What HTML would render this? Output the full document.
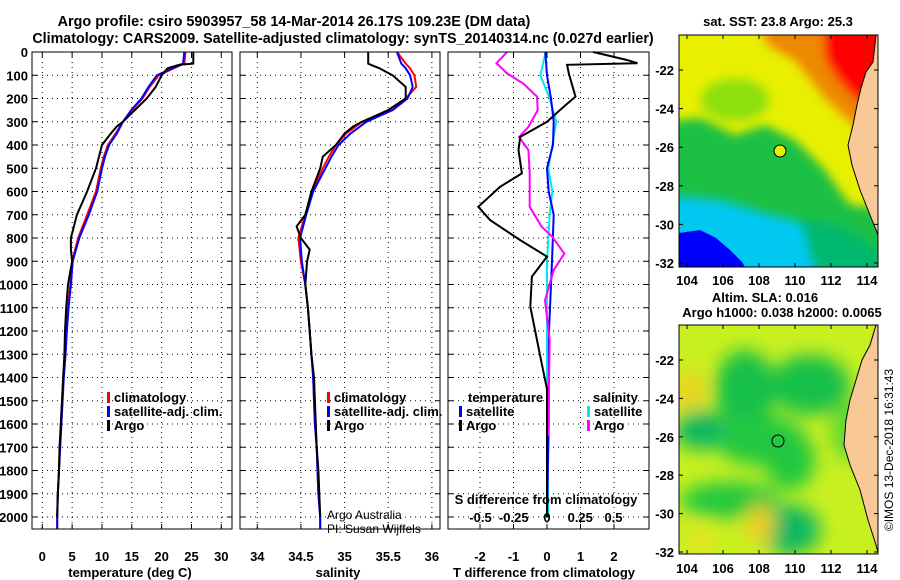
<!DOCTYPE html>
<html><head><meta charset="utf-8"><style>
body{margin:0;background:#fff;}
svg{display:block;font-family:"Liberation Sans",sans-serif;}
.t{font-weight:bold;font-size:13px;fill:#000;}
</style></head><body>
<svg id="c" width="900" height="580" viewBox="0 0 900 580">
<defs>
<filter id="bl" x="-20%" y="-20%" width="140%" height="140%"><feGaussianBlur stdDeviation="5"/></filter>
<filter id="bl2" x="-30%" y="-30%" width="160%" height="160%"><feGaussianBlur stdDeviation="9"/></filter>
<clipPath id="m1c"><rect x="679" y="35" width="199" height="232"/></clipPath>
<clipPath id="m2c"><rect x="679" y="325" width="199" height="229"/></clipPath>
</defs>
<text class="t" x="294" y="26" text-anchor="middle" style="font-size:14.4px">Argo profile: csiro 5903957_58 14-Mar-2014 26.17S 109.23E (DM data)</text>
<text class="t" x="343" y="43" text-anchor="middle" style="font-size:14.3px">Climatology: CARS2009. Satellite-adjusted climatology: synTS_20140314.nc (0.027d earlier)</text>

<!-- SST map -->
<g>
<g clip-path="url(#m1c)">
<rect x="679" y="35" width="199" height="232" fill="#1cc045"/>
<g filter="url(#bl)">
<polygon fill="#e8f000" points="660,20 900,20 900,210 850,205 825,170 795,140 765,125 735,135 700,118 660,122"/>
<ellipse cx="735" cy="100" rx="35" ry="22" fill="#8ee010"/>
<polygon fill="#ee8800" points="760,20 900,20 900,135 855,128 825,100 795,62 765,45"/>
<polygon fill="#ff0000" points="822,20 900,20 900,105 855,100 838,80 825,60"/>
<polygon fill="#00c8f0" points="660,195 720,200 760,212 800,222 835,245 840,290 660,290"/>
<polygon fill="#05b870" points="800,220 840,225 878,250 878,290 820,290"/>
</g>
<polygon fill="#0000ff" points="679,233 700,230 716,238 730,250 742,262 745,267 679,267"/>
<polygon fill="#f8c896" stroke="#000" stroke-width="1" points="876,35 880,35 880,240 876,230 868,210 860,190 852,165 848,145 853,125 857,105 861,88 866,72 873,62"/>
</g>
<rect x="679" y="35" width="199" height="232" fill="none" stroke="#000"/>
<circle cx="780" cy="151" r="6" fill="#e8f000" stroke="#000"/>
<text class="t" x="778" y="26" text-anchor="middle">sat. SST: 23.8 Argo: 25.3</text>
</g>

<!-- SLA map -->
<g>
<g clip-path="url(#m2c)">
<rect x="679" y="325" width="199" height="229" fill="#c8f020"/>
<g filter="url(#bl2)">
<ellipse cx="745" cy="390" rx="30" ry="40" fill="#18c048"/>
<ellipse cx="810" cy="385" rx="40" ry="30" fill="#18c048"/>
<ellipse cx="760" cy="440" rx="45" ry="25" fill="#20c840"/>
<ellipse cx="700" cy="430" rx="25" ry="20" fill="#10b860"/>
<ellipse cx="790" cy="460" rx="25" ry="30" fill="#20c840"/>
<ellipse cx="730" cy="500" rx="50" ry="18" fill="#20c840"/>
<ellipse cx="790" cy="530" rx="30" ry="25" fill="#10b860"/>
<ellipse cx="850" cy="430" rx="20" ry="30" fill="#60d830"/>
<ellipse cx="690" cy="390" rx="14" ry="20" fill="#f0d020"/>
<ellipse cx="760" cy="525" rx="14" ry="20" fill="#f0d020"/>
<ellipse cx="700" cy="540" rx="12" ry="12" fill="#f0e020"/>
</g>
<polygon fill="#f8c896" stroke="#000" stroke-width="1" points="876,325 880,325 880,560 876,545 868,520 860,490 850,465 844,445 846,420 850,400 856,380 862,360 870,345"/>
</g>
<rect x="679" y="325" width="199" height="229" fill="none" stroke="#000"/>
<circle cx="778" cy="441" r="6" fill="none" stroke="#000"/>
<text class="t" x="765" y="302" text-anchor="middle">Altim. SLA: 0.016</text>
<text class="t" x="782" y="317" text-anchor="middle">Argo h1000: 0.038 h2000: 0.0065</text>
</g>
<text x="893" y="450" font-size="12" transform="rotate(-90 893 450)" text-anchor="middle">©IMOS 13-Dec-2018 16:31:43</text>
<g id="layer"></g>
</svg>
<script>
// ---- data ----
const depthClim = [0,50,70,100,150,200,250,300,350,400,450,500,600,700,800,900,1000,1100,1200,1300,1400,1500,1600,1700,1800,1900,2000,2050];
const tempClim = [24,23.8,22,19.5,18,16.8,15,13.5,12.3,11,10.3,9.8,9,7.5,6,5,4.7,4.3,4,3.8,3.5,3.3,3.1,2.9,2.8,2.6,2.5,2.5];
const tempSat  = [23.8,23.6,21.8,19.2,17.8,16.6,14.9,13.5,12.5,11.2,10.5,10,9.2,7.8,6.2,5.1,4.8,4.4,4.1,3.9,3.6,3.4,3.2,3.0,2.8,2.6,2.5,2.5];
const depthArgo = [0,50,55,70,100,150,200,250,300,320,350,400,450,500,600,700,750,800,850,900,1000,1100,1200,1300,1400,1500,1600,1700,1800,1900,2000];
const tempArgo = [25.3,25.3,23,21,20,19,17.5,15.5,13.5,12.5,11.5,10,9.5,9,7.5,5.8,5.3,4.8,4.8,5,4.3,4,3.8,3.7,3.5,3.3,3.1,2.9,2.8,2.6,2.5];
const salClim = [35.6,35.7,35.75,35.8,35.82,35.7,35.5,35.2,35.02,34.9,34.82,34.75,34.63,34.55,34.47,34.5,34.55,34.58,34.6,34.62,34.64,34.65,34.66,34.68,34.69,34.7,34.72,34.72];
const salSat  = [35.6,35.65,35.7,35.75,35.78,35.72,35.55,35.25,35.07,34.93,34.85,34.78,34.64,34.56,34.49,34.51,34.55,34.58,34.6,34.62,34.64,34.65,34.66,34.68,34.69,34.7,34.72,34.72];
const salArgo = [35.27,35.27,35.3,35.4,35.55,35.7,35.7,35.5,35.2,35.1,35,34.9,34.75,34.72,34.62,34.55,34.45,34.5,34.6,34.57,34.55,34.58,34.6,34.62,34.65,34.66,34.67,34.68,34.7,34.71,34.72];
const depthDiff = [0,35,48,55,92,192,235,300,365,422,522,580,666,723,809,880,966,1095,1310,1450,2000];
const tDiffArgo = [1.38,2.4,2.7,0.6,0.65,0.85,0.5,0,-0.8,-0.85,-0.75,-1.4,-2.05,-1.7,-0.8,0,-0.45,-0.5,-0.2,0,0];
const depthDiffSat = [0,100,200,300,400,500,600,700,900,1200,1600,2000];
const tDiffSat = [-0.05,0,0.12,0.2,0.18,0,0.05,0.2,0.15,0.06,0.05,0];
const sDiffSat = [-0.01,-0.05,0.02,0.07,0.04,0.01,0.04,0.02,0,0,0,0.01];
const depthSDiff = [0,48,92,135,192,250,322,365,422,522,666,752,795,867,939,1068,1240,1600,1650];
const sDiffArgo = [-0.3,-0.38,-0.3,-0.18,-0.075,-0.07,-0.14,-0.21,-0.14,-0.13,-0.13,-0.04,0.04,0.13,0.05,-0.015,0.02,0.01,0.01];
const depthTicks = [0,100,200,300,400,500,600,700,800,900,1000,1100,1200,1300,1400,1500,1600,1700,1800,1900,2000];
const tempTicks = [0,5,10,15,20,25,30];
const salTicks = [34,34.5,35,35.5,36];
const tDiffTicks = [-2,-1,0,1,2];
const sDiffTicks = [-0.5,-0.25,0,0.25,0.5];
const sDiffTickLabels = ["-0.5","-0.25","0","0.25","0.5"];
const lonTicks = [104,106,108,110,112,114];
const latTicks = [-22,-24,-26,-28,-30,-32];

const NS="http://www.w3.org/2000/svg";
const L=document.getElementById('layer');
function mk(t,a,p){const e=document.createElementNS(NS,t);for(const k in a)e.setAttribute(k,a[k]);(p||L).appendChild(e);return e;}
const TOP=52,BOT=529;
const yD=d=>TOP+d*0.2325;
const P1={x0:32,x1:232}, P2={x0:240,x1:440}, P3={x0:448,x1:649};
const xT=v=>42.3+v*5.967;
const xS=v=>257.3+(v-34)*87.3;
const xTD=v=>547+v*33.5;
const xSD=v=>547+v*133;

function frame(P,name){
  const g=mk('g',{});
  
  
  depthTicks.forEach(d=>{
    mk('line',{x1:P.x0,x2:P.x1,y1:yD(d),y2:yD(d),stroke:'#000','stroke-dasharray':'1,4','stroke-width':1},g);
    mk('line',{x1:P.x0,x2:P.x0+5,y1:yD(d),y2:yD(d),stroke:'#000'},g);
    mk('line',{x1:P.x1-5,x2:P.x1,y1:yD(d),y2:yD(d),stroke:'#000'},g);
  });
  return g;
}
function vgrid(g,P,ticks,fx){
  ticks.forEach(t=>{
    mk('line',{x1:fx(t),x2:fx(t),y1:TOP,y2:BOT,stroke:'#000','stroke-dasharray':'1,4'},g);
    mk('line',{x1:fx(t),x2:fx(t),y1:BOT-5,y2:BOT,stroke:'#000'},g);
    mk('line',{x1:fx(t),x2:fx(t),y1:TOP,y2:TOP+5,stroke:'#000'},g);
  });
}
function line(ds,vs,fx,color,name,w){
  const pts=ds.map((d,i)=>fx(vs[i]).toFixed(1)+','+yD(d).toFixed(1)).join(' ');
  const e=mk('polyline',{points:pts,fill:'none',stroke:color,'stroke-width':w||2});
  
  
}
function txt(x,y,s,a,extra){const e=mk('text',Object.assign({x:x,y:y,'text-anchor':a||'middle',class:'t'},extra||{}));e.textContent=s;return e;}

// panel 1
let g1=frame(P1,'temperature-panel');
vgrid(g1,P1,tempTicks,xT);
depthTicks.forEach(d=>{const e=txt(28,yD(d)+5,String(d),'end');});
tempTicks.forEach(t=>{const e=txt(xT(t),561,String(t));});
line(depthClim,tempClim,xT,'#f00','temp-climatology-line');
line(depthClim,tempSat,xT,'#00f','temp-satellite-line');
line(depthArgo,tempArgo,xT,'#000','temp-argo-line');
txt(130,577,'temperature (deg C)');
mk('rect',{x:P1.x0,y:TOP,width:P1.x1-P1.x0,height:BOT-TOP,fill:'none',stroke:'#000'});

// panel 2
let g2=frame(P2,'salinity-panel');
vgrid(g2,P2,salTicks,xS);
salTicks.forEach(t=>{const e=txt(xS(t),561,String(t));});
line(depthClim,salClim,xS,'#f00','sal-climatology-line');
line(depthClim,salSat,xS,'#00f','sal-satellite-line');
line(depthArgo,salArgo,xS,'#000','sal-argo-line');
txt(338,577,'salinity');
txt(327,519,'Argo Australia','start',{style:'font-weight:normal;font-size:12px'});
txt(327,533,'PI: Susan Wijffels','start',{style:'font-weight:normal;font-size:12px'});
mk('rect',{x:P2.x0,y:TOP,width:P2.x1-P2.x0,height:BOT-TOP,fill:'none',stroke:'#000'});

// panel 3
let g3=frame(P3,'difference-panel');
vgrid(g3,P3,tDiffTicks,xTD);
tDiffTicks.forEach(t=>{const e=txt(xTD(t),561,String(t));});
line(depthDiffSat,sDiffSat,xSD,'#00e8f0','sdiff-satellite-line');
line(depthDiffSat,tDiffSat,xTD,'#00f','tdiff-satellite-line');
line(depthSDiff,sDiffArgo,xSD,'#f0f','sdiff-argo-line');
line(depthDiff,tDiffArgo,xTD,'#000','tdiff-argo-line');
sDiffTicks.forEach((t,i)=>{const e=txt(xSD(t),522,sDiffTickLabels[i]);});
txt(546,504,'S difference from climatology');
txt(544,577,'T difference from climatology');
mk('rect',{x:P3.x0,y:TOP,width:P3.x1-P3.x0,height:BOT-TOP,fill:'none',stroke:'#000'});

// legends
function leg(x,y,color,label,name){
  const g=mk('g',{});
  
  
  mk('rect',{x:x,y:y-10,width:3,height:11,fill:color},g);
  const t=mk('text',{x:x+7,y:y,class:'t'},g);t.textContent=label;
}
leg(107,402,'#f00','climatology','legend-temp-climatology');
leg(107,416,'#00f','satellite-adj. clim.','legend-temp-satellite');
leg(107,430,'#000','Argo','legend-temp-argo');
leg(327,402,'#f00','climatology','legend-sal-climatology');
leg(327,416,'#00f','satellite-adj. clim.','legend-sal-satellite');
leg(327,430,'#000','Argo','legend-sal-argo');
txt(468,402,'temperature','start');
leg(459,416,'#00f','satellite','legend-tdiff-satellite');
leg(459,430,'#000','Argo','legend-tdiff-argo');
txt(593,402,'salinity','start');
leg(587,416,'#00e8f0','satellite','legend-sdiff-satellite');
leg(587,430,'#f0f','Argo','legend-sdiff-argo');

// map axes
const lonX=v=>687+(v-104)*18;
const lat1=v=>70+(-22-v)*19.3;
const lat2=v=>360+(-22-v)*19.2;
[[35,267,lat1,285],[325,554,lat2,573]].forEach(([t,b,fy,ly])=>{
  lonTicks.forEach(v=>{
    mk('line',{x1:lonX(v),x2:lonX(v),y1:b-4,y2:b,stroke:'#000'});
    mk('line',{x1:lonX(v),x2:lonX(v),y1:t,y2:t+4,stroke:'#000'});
    const e=txt(lonX(v),ly,String(v));
  });
  latTicks.forEach(v=>{
    mk('line',{x1:679,x2:683,y1:fy(v),y2:fy(v),stroke:'#000'});
    mk('line',{x1:874,x2:878,y1:fy(v),y2:fy(v),stroke:'#000'});
    const e=txt(674,fy(v)+5,String(v),'end');
  });
});
</script>
</body></html>
